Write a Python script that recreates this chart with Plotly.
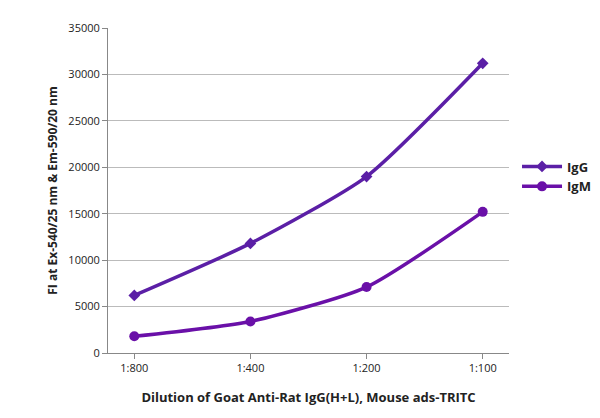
import plotly.graph_objects as go

categories = ["1:800", "1:400", "1:200", "1:100"]
igg = [6200, 11800, 19000, 31200]
igm = [1800, 3400, 7100, 15200]
yticks = [0, 5000, 10000, 15000, 20000, 25000, 30000, 35000]
yticklabels = [str(v) for v in yticks]

fig = go.Figure()
fig.add_trace(go.Scatter(x=categories, y=igg, name="<b>IgG</b>", mode="lines+markers",
    line=dict(color="#5b1fa6", width=3.5, shape="spline", smoothing=0.6),
    marker=dict(symbol="diamond", size=9, color="#5b1fa6")))
fig.add_trace(go.Scatter(x=categories, y=igm, name="<b>IgM</b>", mode="lines+markers",
    line=dict(color="#6a10a8", width=3.5, shape="spline", smoothing=0.6),
    marker=dict(symbol="circle", size=10, color="#6a10a8")))

fig.update_layout(
    width=600, height=418, plot_bgcolor="white", paper_bgcolor="white",
    margin=dict(l=100, r=85, t=17, b=73),
    font=dict(family="Open Sans", size=11, color="#222"),
    legend=dict(x=1.02, y=0.62, yanchor="top", font=dict(size=13, family="Open Sans"),
                itemwidth=40, tracegroupgap=28, bgcolor="rgba(0,0,0,0)"),
    xaxis=dict(showline=True, linecolor="#888", ticks="outside", tickcolor="#888",
               title=dict(text="<b>Dilution of Goat Anti-Rat IgG(H+L), Mouse ads-TRITC</b>",
                          font=dict(size=13), standoff=18)),
    yaxis=dict(range=[0, 35000], tickvals=yticks, ticktext=yticklabels, showgrid=True, gridcolor="#bbb",
               showline=True, linecolor="#888", ticks="outside", tickcolor="#888",
               zeroline=False,
               title=dict(text="<b>FI at Ex-540/25 nm & Em-590/20 nm</b>", font=dict(size=12), standoff=8)),
)
fig.write_html("out.html")
